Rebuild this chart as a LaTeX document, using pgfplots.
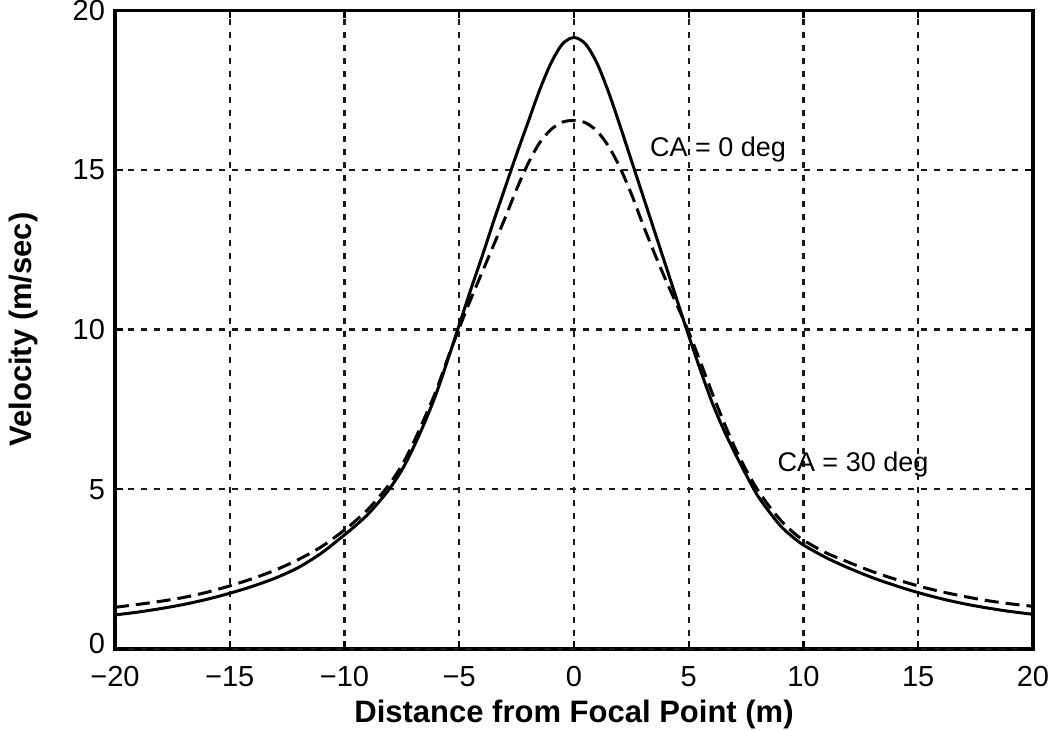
\documentclass[border=0pt]{standalone}
\usepackage{fontspec}
\setmainfont{Liberation Sans}
\usepackage{pgfplots}
\pgfplotsset{compat=1.18}
\begin{document}
\begin{tikzpicture}
\begin{axis}[
  scale only axis, width=459pt, height=319.2pt,
  xmin=-20, xmax=20, ymin=0, ymax=20,
  xtick={-20,-15,...,20}, ytick={5,10,15,20},
  extra y ticks={0},
  extra y tick style={yticklabel style={yshift=2.5pt}},
  xticklabels={−20,−15,−10,−5,0,5,10,15,20},
  grid=major,
  major grid style={black!90, line width=1.1pt, dash pattern=on 3pt off 3.5pt},
  axis line style={black, line width=1.8pt},
  tick align=inside, major tick length=4pt, tick style={black, line width=1.1pt},
  ticklabel style={font=\fontsize{14.5}{17}\selectfont, inner sep=1pt},
  xticklabel style={yshift=-7.5pt},
  yticklabel style={xshift=-3.8pt},
  /pgf/number format/assume math mode=true,
  xlabel={Distance from Focal Point (m)},
  ylabel={Velocity (m/sec)},
  label style={font=\fontsize{15.5}{18}\selectfont\bfseries},
  xlabel style={at={(axis description cs:0.5,-0.103)}, anchor=center},
  ylabel style={at={(axis description cs:-0.1,0.5)}, anchor=center},
]
\addplot[black, line width=1.5pt, smooth] coordinates {
(-20,1.06) (-19,1.15) (-18,1.26) (-17,1.39) (-16,1.55) (-15,1.74) (-14,1.96) (-13,2.22) (-12,2.55) (-11,3.0) (-10,3.57) (-9.5,3.87) (-9,4.2) (-8.5,4.6) (-8,5.05) (-7.5,5.6) (-7,6.3) (-6.5,7.1) (-6,8.0) (-5.5,9.05) (-5,10.15) (-4.5,11.25) (-4,12.3) (-3.5,13.4) (-3,14.45) (-2.5,15.5) (-2,16.5) (-1.5,17.5) (-1,18.35) (-0.5,18.95) (0,19.15) (0.5,18.95) (1,18.35) (1.5,17.45) (2,16.4) (2.5,15.3) (3,14.2) (3.5,13.1) (4,12.0) (4.5,10.9) (5,9.8) (5.5,8.75) (6,7.75) (6.5,6.9) (7,6.15) (7.5,5.45) (8,4.8) (8.5,4.3) (9,3.85) (9.5,3.52) (10,3.25) (11,2.85) (12,2.52) (13,2.23) (14,1.98) (15,1.76) (16,1.57) (17,1.41) (18,1.28) (19,1.17) (20,1.08)
};
\addplot[black, line width=1.5pt, dash pattern=on 7pt off 3.5pt, smooth] coordinates {
(-20,1.30) (-19,1.39) (-18,1.49) (-17,1.61) (-16,1.77) (-15,1.97) (-14,2.2) (-13,2.47) (-12,2.8) (-11,3.2) (-10,3.72) (-9.5,4.02) (-9,4.35) (-8.5,4.75) (-8,5.2) (-7.5,5.75) (-7,6.45) (-6.5,7.25) (-6,8.1) (-5.5,9.1) (-5,10.05) (-4.5,10.95) (-4,11.8) (-3.5,12.65) (-3,13.5) (-2.5,14.4) (-2,15.2) (-1.5,15.85) (-1,16.27) (-0.5,16.5) (0,16.55) (0.5,16.48) (1,16.22) (1.5,15.75) (2,15.08) (2.5,14.25) (3,13.3) (3.5,12.4) (4,11.55) (4.5,10.75) (5,9.92) (5.5,9.0) (6,8.05) (6.5,7.15) (7,6.32) (7.5,5.6) (8,4.98) (8.5,4.47) (9,4.03) (9.5,3.68) (10,3.4) (11,3.0) (12,2.7) (13,2.42) (14,2.18) (15,1.97) (16,1.79) (17,1.64) (18,1.51) (19,1.41) (20,1.33)
};
\node[anchor=base west, inner sep=0, font=\fontsize{13.5}{16}\selectfont] at (axis cs:3.3,15.41) {CA = 0 deg};
\node[anchor=base west, inner sep=0, font=\fontsize{13.5}{16}\selectfont] at (axis cs:8.85,5.55) {CA = 30 deg};
\end{axis}
\pgfresetboundingbox
\path[use as bounding box] (-57.5pt,-41.1pt) rectangle (470.5pt,324.4pt);
\end{tikzpicture}
\end{document}
